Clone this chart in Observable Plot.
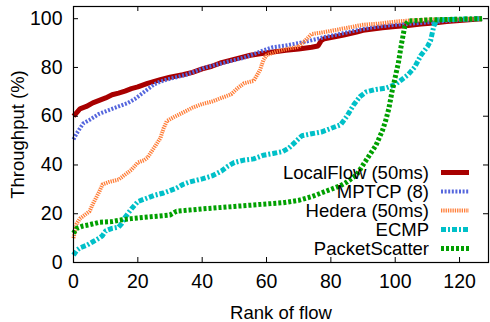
<!DOCTYPE html>
<html>
<head>
<meta charset="utf-8">
<script src="https://cdn.jsdelivr.net/npm/d3@7"></script>
<script src="https://cdn.jsdelivr.net/npm/@observablehq/plot@0.6"></script>
<style>
  html, body { margin: 0; padding: 0; background: #fff; }
  #wrap { position: relative; width: 490px; height: 322px; font-family: "Liberation Sans", Arial, sans-serif; }
  #wrap svg text { font-family: "Liberation Sans", Arial, sans-serif !important; }
  .lg-row { position: absolute; left: 0; height: 19px; width: 490px; }
  .lg-text { position: absolute; right: 61px; top: 0; line-height: 19px; font-size: 18.5px; color: #000; white-space: nowrap; font-family: "Liberation Sans", Arial, sans-serif; }
  .lg-svg { position: absolute; left: 441px; top: 0; }
</style>
</head>
<body>
<div id="wrap"></div>
<script>
// ---- data ----
const seriesNames = ["LocalFlow (50ms)", "MPTCP (8)", "Hedera (50ms)", "ECMP", "PacketScatter"];

const localflowRank = [0,1,2,4,6,8,10,12,14,16,18,20,23,27,30,34,37,40,43,46,49,52,55,58,62,66,70,74,76,77,78,80,84,88,90,96,100,104,108,112,116,120,124,127];
const localflowTput = [60,61.5,63,64,65.5,66.5,67.5,68.8,69.5,70.3,71.3,72,73.5,75,76,77,78,79.4,80.5,82,83,84,85,85.6,86.3,87,87.6,88.3,88.8,91,91.8,92.3,93.3,94.5,95.2,96.3,96.8,97.2,97.8,98.2,98.8,99.3,99.7,100];

const mptcpRank = [0,1,2,3,5,8,11,14,17,19,21,23,25,27,29,32,35,38,41,44,47,50,53,56,59,62,66,70,73,76,78,82,86,90,95,100,105,110,115,120,127];
const mptcpTput = [50.5,53,55,57,58.5,61,62.5,64,65.5,67,69,71,73,74.2,75,76,77,78.5,80,81,82,83,84,85.5,87,88.3,89,90,90.8,91.8,92.5,93.5,94.7,95.8,96.8,97.5,98,98.5,99,99.5,100];

const hederaRank = [0,1,2,4,5,6,8,9,11,14,16,18,20,22,23,25,27,28,29,31,34,37,40,43,46,49,51,53,56,58,59,60,63,66,70,72,74,78,82,86,90,95,100,105,112,120,127];
const hederaTput = [10,16,18,20,21,24,29,32,33,34,36,38,41,42,43,47,51,55,58,59.5,61.5,63.5,65,66,67.5,69,71.5,73.5,74.5,79,83,85,86.5,87.5,88.5,91,93.7,94.5,95.5,96.5,97.5,98,98.8,99.3,99.7,99.9,100];

const ecmpRank = [0,1,2,4,6,8,9,10,12,14,15,16,18,20,22,25,28,30,32,34,36,40,43,46,48,50,53,56,59,62,65,67,69,71,74,77,80,83,85,87,89,91,94,97,100,102,104,106,108,110,111,112,113,120,127];
const ecmpTput = [3,5,6,7,8.5,10,11,13,14,14.5,16,18.5,22,25,26,27.5,28.5,29.5,30.5,32,33,34.3,35.5,37.5,39.5,41,42,42.5,44,44.7,45.5,47,49.5,52,52.8,53.5,55,56.5,60,64.5,68,70,71,71.5,73,75,77,80,85,88.5,91,97,99.5,99.8,100];

const scatterRank = [0,1,3,5,8,12,15,18,22,26,30,32,36,40,45,50,55,60,65,70,74,77,80,83,85,88,90,92,94,96,97,98,99,100,101,102,103,104,110,127];
const scatterTput = [12,14,15,15.5,16.5,16.8,17.5,18,18.5,19,19.5,21,21.5,22,22.5,23,23.5,24,24.5,25.5,27,28.5,30,31.5,33,36,40,44,48,54,58,63,70,76,82,90,97,99,99.5,100];

const xTicks = [0, 20, 40, 60, 80, 100, 120];
const yTicks = [0, 20, 40, 60, 80, 100];

// ---- styles ----
const styles = [
  {stroke: "#a80000", strokeWidth: 5, dash: null},
  {stroke: "#5566dd", strokeWidth: 4, dash: "2,1.6"},
  {stroke: "#ff7f3a", strokeWidth: 4, dash: "1.3,1"},
  {stroke: "#00c0c8", strokeWidth: 5, dash: "5,2,2,2"},
  {stroke: "#00a000", strokeWidth: 5, dash: "3,2"}
];

const zip = (rs, vs) => rs.map((r, i) => ({r, v: vs[i]}));
const series = [
  zip(localflowRank, localflowTput),
  zip(mptcpRank, mptcpTput),
  zip(hederaRank, hederaTput),
  zip(ecmpRank, ecmpTput),
  zip(scatterRank, scatterTput)
];

const W = 490, H = 322, mT = 6, mB = 60, mL = 73, mR = 2;
const plotH = H - mT - mB, plotW = W - mL - mR;

const marks = [];
series.forEach((d, i) => {
  const s = styles[i];
  marks.push(Plot.line(d, {x: "r", y: "v", stroke: s.stroke, strokeWidth: s.strokeWidth,
    strokeDasharray: s.dash, strokeLinecap: "butt", strokeLinejoin: "miter"}));
});

marks.push(
  Plot.frame({stroke: "#000", strokeWidth: 1.2}),
  Plot.tickX(xTicks, {x: d => d, insetTop: plotH - 5, stroke: "#000", strokeWidth: 1}),
  Plot.tickX(xTicks, {x: d => d, insetBottom: plotH - 5, stroke: "#000", strokeWidth: 1}),
  Plot.tickY(yTicks, {y: d => d, insetRight: plotW - 5, stroke: "#000", strokeWidth: 1}),
  Plot.tickY(yTicks, {y: d => d, insetLeft: plotW - 5, stroke: "#000", strokeWidth: 1}),
  Plot.axisX({ticks: xTicks, tickSize: 0, tickPadding: 12, fontSize: 19.5, label: null}),
  Plot.axisX({ticks: [], tickSize: 0, fontSize: 18.5, label: "Rank of flow", labelAnchor: "center", labelOffset: 56, labelArrow: "none"}),
  Plot.axisY({ticks: yTicks, tickSize: 0, tickPadding: 11, fontSize: 19.5, label: null}),
  Plot.axisY({ticks: [], tickSize: 0, fontSize: 18.5, label: "Throughput (%)", labelAnchor: "center", labelOffset: 63, labelArrow: "none"})
);

const chart = Plot.plot({
  width: W, height: H,
  marginTop: mT, marginBottom: mB, marginLeft: mL, marginRight: mR,
  x: {domain: [0, 129]},
  y: {domain: [0, 105]},
  style: {fontFamily: "Liberation Sans, Arial, sans-serif", fontSize: "18.5px", color: "#000", background: "#fff", overflow: "visible"},
  marks
});

const wrap = document.getElementById("wrap");
wrap.appendChild(chart);

// ---- legend (HTML overlay) ----
const legendTop = 163;
seriesNames.forEach((name, i) => {
  const s = styles[i];
  const row = document.createElement("div");
  row.className = "lg-row";
  row.style.top = (legendTop + i * 19) + "px";
  const t = document.createElement("div");
  t.className = "lg-text";
  t.textContent = name;
  row.appendChild(t);
  const svg = d3.create("svg").attr("class", "lg-svg").attr("width", 30).attr("height", 19);
  svg.append("line").attr("x1", 0).attr("x2", 28).attr("y1", 9.5).attr("y2", 9.5)
    .attr("stroke", s.stroke).attr("stroke-width", s.strokeWidth)
    .attr("stroke-dasharray", s.dash);
  row.appendChild(svg.node());
  wrap.appendChild(row);
});
</script>
</body>
</html>
